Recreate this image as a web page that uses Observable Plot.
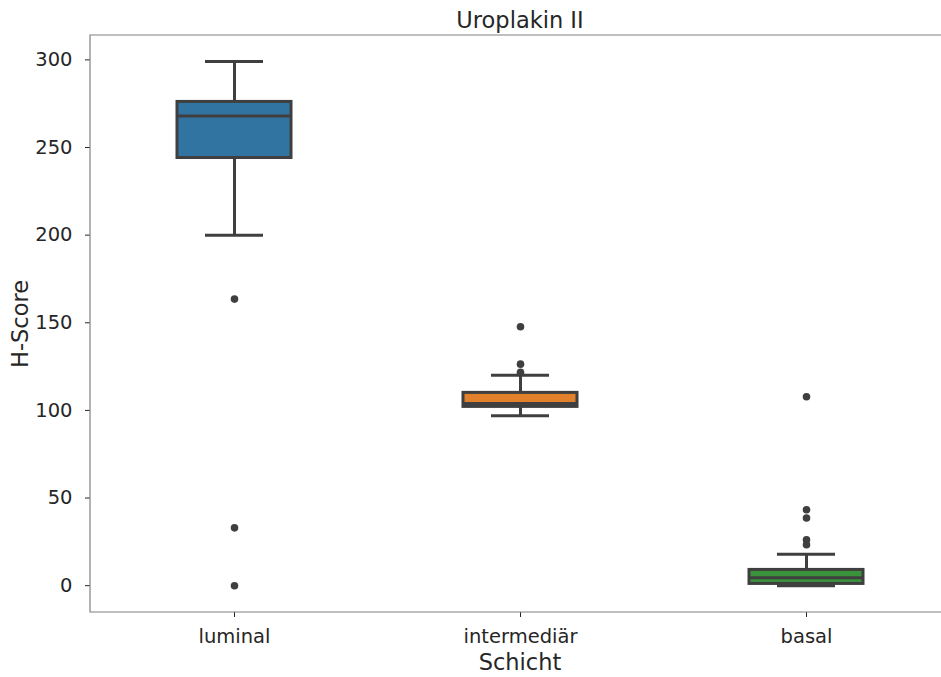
<!DOCTYPE html>
<html><head><meta charset="utf-8">
<script src="https://cdn.jsdelivr.net/npm/d3@7"></script>
<script src="https://cdn.jsdelivr.net/npm/@observablehq/plot@0.6"></script>
<style>body{margin:0;background:#fff;overflow:hidden;}</style>
</head><body><div id="chart"></div>
<script>
const categories = ["luminal", "intermediär", "basal"];
const whiskerLow = [200, 97, 0];
const q1 = [244, 102, 1];
const median = [268, 104, 4.5];
const q3 = [276, 110, 9];
const whiskerHigh = [299, 120, 18];
const boxColors = ["#3274a1", "#e1812c", "#3a923a"];
const outlierCategory = ["luminal", "luminal", "luminal", "intermediär", "intermediär", "intermediär", "basal", "basal", "basal", "basal", "basal"];
const outlierValue = [163.5, 33, 0, 147.7, 126.4, 121.7, 107.8, 43.3, 38.6, 26.2, 23.4];
const yTicks = [0, 50, 100, 150, 200, 250, 300];
const title = "Uroplakin II";
const xLabel = "Schicht";
const yLabel = "H-Score";

const stats = categories.map((c, i) => ({cat: c, lo: whiskerLow[i], q1: q1[i], med: median[i], q3: q3[i], hi: whiskerHigh[i], color: boxColors[i]}));
const outliers = outlierCategory.map((c, i) => ({cat: c, v: outlierValue[i]}));
const lineColor = "#3f3f3f";
const spineColor = "#808080";

const W = 941, H = 677, ML = 90, MT = 35, MB = 65;

const chart = Plot.plot({
  width: W,
  height: H,
  marginLeft: ML,
  marginRight: 0,
  marginTop: MT,
  marginBottom: MB,
  style: {fontFamily: "DejaVu Sans", fontSize: "19.5px", color: "#262626", background: "#fff"},
  x: {domain: categories, range: [ML, 949.5], paddingInner: 0.6, paddingOuter: 0.3, label: null, tickSize: 5, tickPadding: 12},
  y: {domain: [-15.3, 313.9], ticks: yTicks, tickFormat: d => String(d), label: null, tickSize: 5, tickPadding: 13},
  marks: [
    Plot.ruleX(stats, {x: "cat", y1: "lo", y2: "q1", stroke: lineColor, strokeWidth: 3}),
    Plot.ruleX(stats, {x: "cat", y1: "q3", y2: "hi", stroke: lineColor, strokeWidth: 3}),
    Plot.tickY(stats, {x: "cat", y: "lo", stroke: lineColor, strokeWidth: 3, insetLeft: 28, insetRight: 28}),
    Plot.tickY(stats, {x: "cat", y: "hi", stroke: lineColor, strokeWidth: 3, insetLeft: 28, insetRight: 28}),
    Plot.barY(stats, {x: "cat", y1: "q1", y2: "q3", fill: d => d.color, stroke: lineColor, strokeWidth: 3}),
    Plot.tickY(stats, {x: "cat", y: "med", stroke: lineColor, strokeWidth: 3}),
    Plot.dot(outliers, {x: "cat", y: "v", r: 3.8, fill: lineColor, stroke: "none"}),
    Plot.text([title], {frameAnchor: "top", lineAnchor: "middle", dy: -15, dx: 4, fontSize: 22.5, fill: "#262626"}),
    Plot.text([xLabel], {frameAnchor: "bottom", lineAnchor: "middle", dy: 50, dx: 4, fontSize: 22.5, fill: "#262626"}),
    Plot.text([yLabel], {frameAnchor: "left", textAnchor: "middle", lineAnchor: "middle", dx: -70, rotate: -90, fontSize: 22.5, fill: "#262626"})
  ]
});
d3.select(chart).append("path")
  .attr("fill", "none")
  .attr("stroke", spineColor)
  .attr("stroke-width", 1.2)
  .attr("d", `M${W + 20},${MT}H${ML}V${H - MB}H${W + 20}`);
document.getElementById("chart").appendChild(chart);
</script>
</body></html>
